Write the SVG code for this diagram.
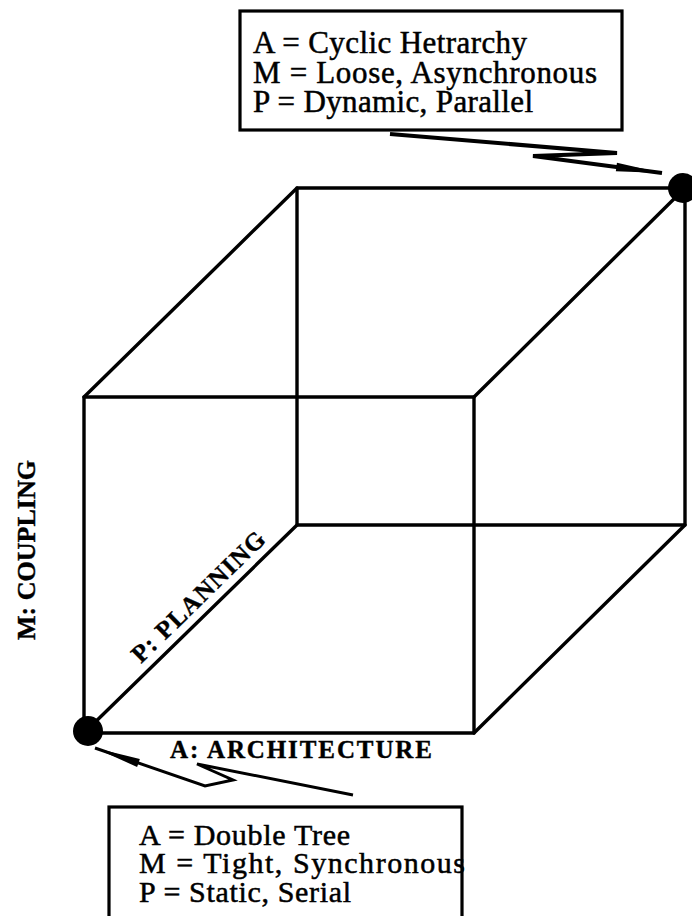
<svg xmlns="http://www.w3.org/2000/svg" width="692" height="916" viewBox="0 0 692 916">
<style>
.edge{stroke:#000;stroke-width:3.4;fill:none;stroke-linecap:round;stroke-linejoin:round}
.box{stroke:#000;stroke-width:3.2;fill:#fff}
.t{font-family:"Liberation Serif","Times New Roman",serif;fill:#000;stroke:#000;stroke-width:0.5}
.lbl{font-family:"Liberation Serif","Times New Roman",serif;font-weight:bold;fill:#000;stroke:#000;stroke-width:0.4}
.conn{stroke:#000;fill:none;stroke-linejoin:miter}
</style>
<defs>
<marker id="wedge" markerUnits="userSpaceOnUse" markerWidth="60" markerHeight="20" refX="0" refY="0" viewBox="-50 -10 60 20" orient="auto">
<path d="M0,0 L-46,-4.2 L-46,4.2 Z" fill="#000"/>
</marker>
</defs>
<rect width="692" height="916" fill="#fff"/>
<g id="cube">
<path class="edge" d="M297,188 L685,188 L685,525 L297,525 Z"/>
<path class="edge" d="M84,397 L474,397 L474,733 L84,733 Z"/>
<path class="edge" d="M84,397 L297,188 M474,397 L685,188 M474,733 L685,525 M84,733 L297,525"/>
</g>
<g id="dot-top-right"><circle cx="683" cy="188" r="15" fill="#000"/></g>
<g id="dot-bottom-left"><circle cx="88" cy="731" r="15" fill="#000"/></g>
<g id="axis-labels">
<text class="lbl" font-size="26" transform="translate(35,640) rotate(-90)" textLength="180" lengthAdjust="spacing">M:  COUPLING</text>
<text class="lbl" font-size="25" x="170" y="758" textLength="262" lengthAdjust="spacing">A:  ARCHITECTURE</text>
<text class="lbl" font-size="25" transform="translate(141,664) rotate(-44.3)" textLength="176" lengthAdjust="spacing">P: PLANNING</text>
</g>
<g id="box-top">
<rect class="box" x="240" y="11" width="382" height="119"/>
<text class="t" font-size="31" x="253" y="53" textLength="274" lengthAdjust="spacing">A = Cyclic Hetrarchy</text>
<text class="t" font-size="31" x="253" y="83" textLength="344" lengthAdjust="spacing">M = Loose, Asynchronous</text>
<text class="t" font-size="31" x="253" y="112" textLength="280" lengthAdjust="spacing">P = Dynamic, Parallel</text>
</g>
<g id="box-bottom">
<rect class="box" x="109" y="807" width="353" height="130"/>
<text class="t" font-size="30" x="139" y="845" textLength="211" lengthAdjust="spacing">A = Double Tree</text>
<text class="t" font-size="30" x="139" y="873" textLength="326" lengthAdjust="spacing">M = Tight, Synchronous</text>
<text class="t" font-size="30" x="139" y="902" textLength="212" lengthAdjust="spacing">P = Static, Serial</text>
</g>
<g id="connectors">
<path class="conn" stroke-width="4" d="M390,134 L617,153 L533,156 L662,173" marker-end="url(#wedge)"/>
<path class="conn" stroke-width="3" d="M353,795 L197,764 L233,780 L205,786 L95,748" marker-end="url(#wedge)"/>
</g>
</svg>
